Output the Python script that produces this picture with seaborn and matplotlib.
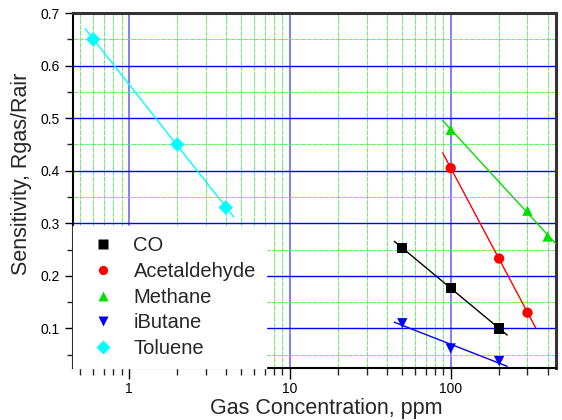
import matplotlib
matplotlib.use("Agg")
import matplotlib.pyplot as plt
import matplotlib.ticker as mticker
import numpy as np
import pandas as pd
import seaborn as sns

# values
gases = ["CO", "Acetaldehyde", "Methane", "iButane", "Toluene"]
co_ppm = [50, 100, 200]
co_sens = [0.253, 0.177, 0.100]
acet_ppm = [100, 200, 300]
acet_sens = [0.405, 0.233, 0.130]
meth_ppm = [100, 300, 400]
meth_sens = [0.478, 0.324, 0.275]
ibut_ppm = [50, 100, 200]
ibut_sens = [0.110, 0.062, 0.038]
tol_ppm = [0.6, 2, 4]
tol_sens = [0.650, 0.450, 0.330]

colors = {"CO": "black", "Acetaldehyde": "red", "Methane": "#00e000",
          "iButane": "blue", "Toluene": "cyan"}
markers = {"CO": "s", "Acetaldehyde": "o", "Methane": "^",
           "iButane": "v", "Toluene": "D"}

series = {
    "CO": (co_ppm, co_sens),
    "Acetaldehyde": (acet_ppm, acet_sens),
    "Methane": (meth_ppm, meth_sens),
    "iButane": (ibut_ppm, ibut_sens),
    "Toluene": (tol_ppm, tol_sens),
}

rows = []
fit_rows = []
for g in gases:
    x, y = series[g]
    for xi, yi in zip(x, y):
        rows.append({"gas": g, "ppm": xi, "sens": yi})
    # linear fit of sensitivity vs log10(concentration), drawn a bit past the data
    lx = np.log10(x)
    k, b = np.polyfit(lx, y, 1)
    ext = 0.05
    for v in (lx.min() - ext, lx.max() + ext):
        fit_rows.append({"gas": g, "ppm": 10 ** v, "sens": k * v + b})
df = pd.DataFrame(rows)
fit_df = pd.DataFrame(fit_rows)

sns.set_style("ticks")
plt.rcParams["font.family"] = ["Liberation Sans", "DejaVu Sans"]

fig = plt.figure(figsize=(5.62, 4.2), dpi=100)
ax = fig.add_axes([0.130, 0.124, 0.859, 0.845])
ax.set_xscale("log")

sns.lineplot(data=fit_df, x="ppm", y="sens", hue="gas", palette=colors,
             hue_order=gases, linewidth=1, legend=False, ax=ax, zorder=3)
sns.scatterplot(data=df, x="ppm", y="sens", hue="gas", style="gas",
                palette=colors, markers=markers, hue_order=gases,
                style_order=gases, s=55, edgecolor="none", ax=ax, zorder=4)

ax.set_xlim(0.45, 450)
ax.set_ylim(0.025, 0.7)
ax.xaxis.set_major_locator(mticker.FixedLocator([1, 10, 100]))
ax.xaxis.set_major_formatter(mticker.FixedFormatter(["1", "10", "100"]))
ax.xaxis.set_minor_locator(mticker.LogLocator(base=10, subs=np.arange(2, 10)))
ax.xaxis.set_minor_formatter(mticker.NullFormatter())
ax.yaxis.set_major_locator(mticker.MultipleLocator(0.1))
ax.yaxis.set_minor_locator(mticker.MultipleLocator(0.05))
ax.yaxis.set_major_formatter(mticker.FormatStrFormatter("%.1f"))

ax.grid(which="minor", axis="both", color="#55ee55", linewidth=0.6,
        linestyle=(0, (6, 1)), zorder=0)
ax.grid(which="major", axis="x", color="#6a6aff", linewidth=1.2, zorder=1)
ax.grid(which="major", axis="y", color="blue", linewidth=1, zorder=1)
ax.set_axisbelow(True)

ax.tick_params(axis="both", which="major", direction="out", length=6,
               width=1, labelsize=10, colors="black")
ax.tick_params(axis="both", which="minor", direction="out", length=4, width=1)
ax.tick_params(axis="x", which="major", length=8, pad=2)
ax.tick_params(axis="x", which="minor", length=5)

for side in ("left", "bottom"):
    ax.spines[side].set_color("black")
    ax.spines[side].set_linewidth(1.5)
for side in ("top", "right"):
    ax.spines[side].set_visible(True)
    ax.spines[side].set_color("#333333")
    ax.spines[side].set_linewidth(2.2)

ax.set_xlabel("Gas Concentration, ppm", fontsize=15.5)
ax.set_ylabel("Sensitivity, Rgas/Rair", fontsize=15.5)
ax.xaxis.set_label_coords(0.524, -0.086)
ax.yaxis.set_label_coords(-0.085, 0.546)

leg = ax.legend(loc="lower left", borderaxespad=0, frameon=True,
                fontsize=14.5, markerscale=0.9, handletextpad=0.5,
                labelspacing=0.33, borderpad=0.5, handlelength=2.0)
leg.get_frame().set_facecolor("white")
leg.get_frame().set_edgecolor("white")
leg.get_frame().set_alpha(1)
leg.get_frame().set_boxstyle("square", pad=0)
leg.set_zorder(10)

fig.savefig("out.png", dpi=100)
